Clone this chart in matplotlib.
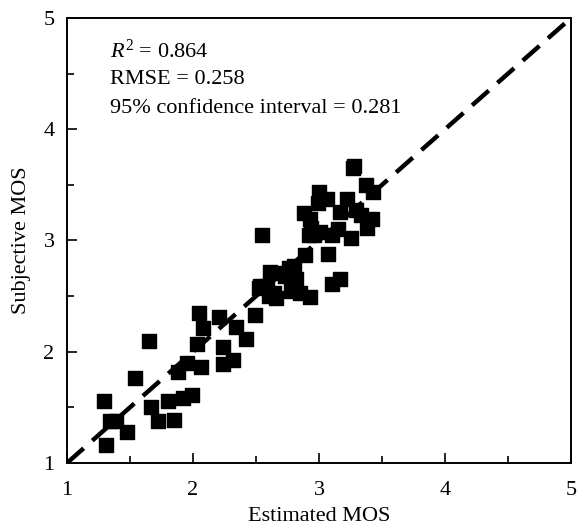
import numpy as np
import matplotlib
matplotlib.use('Agg')
import matplotlib.pyplot as plt
from matplotlib.ticker import MultipleLocator

plt.rcParams['font.family'] = ['Liberation Serif', 'DejaVu Serif']
plt.rcParams['mathtext.fontset'] = 'custom'
plt.rcParams['mathtext.rm'] = 'Liberation Serif'
plt.rcParams['mathtext.it'] = 'Liberation Serif:italic'

# estimated MOS vs subjective MOS
est_mos = [1.29, 1.31, 1.34, 1.39, 1.48, 1.54, 1.65, 1.67, 1.72, 1.80,
           1.85, 1.92, 1.99, 1.88, 1.95, 2.03, 2.05, 2.06, 2.08, 2.21,
           2.24, 2.24, 2.32, 2.34, 2.42, 2.49,
           2.52, 2.53, 2.55, 2.59, 2.60, 2.61, 2.64, 2.66, 2.66, 2.73,
           2.76, 2.80, 2.78, 2.82, 2.85, 2.93, 2.89, 2.88, 2.93, 2.92,
           2.94, 2.96, 3.00, 2.99, 3.01, 3.06, 3.07, 3.10, 3.10, 3.15,
           3.17, 3.17, 3.22, 3.25, 3.28, 3.27, 3.29, 3.33, 3.37, 3.38,
           3.42, 3.43]
subj_mos = [1.56, 1.16, 1.38, 1.38, 1.28, 1.76, 2.10, 1.50, 1.38, 1.56,
            1.39, 1.58, 1.61, 1.82, 1.90, 2.07, 2.35, 1.86, 2.21, 2.31,
            2.04, 1.89, 1.93, 2.22, 2.11, 2.33,
            2.57, 2.59, 3.05, 2.59, 2.50, 2.72, 2.53, 2.48, 2.71, 2.68,
            2.75, 2.77, 2.55, 2.65, 2.53, 2.49, 2.87, 3.25, 3.19, 3.05,
            3.11, 3.05, 3.44, 3.34, 3.08, 3.37, 2.88, 3.05, 2.61, 3.10,
            2.65, 3.26, 3.37, 3.02, 3.67, 3.65, 3.27, 3.23, 3.50, 3.11,
            3.19, 3.44]

stats_text = ['$R^2$ = 0.864', 'RMSE = 0.258', '95% confidence interval = 0.281']

fig = plt.figure(figsize=(5.8, 5.26), dpi=100)
ax = fig.add_axes([0.1155, 0.1198, 0.869, 0.846])

ax.plot([1, 5], [1, 5], color='black', linestyle='--', linewidth=3.2,
        dashes=(5, 2.6), zorder=1)
ax.scatter(est_mos, subj_mos, marker='s', s=90, color='black', zorder=2)

ax.set_xlim(1, 5)
ax.set_ylim(1, 5)
ax.xaxis.set_major_locator(MultipleLocator(1))
ax.yaxis.set_major_locator(MultipleLocator(1))
ax.xaxis.set_minor_locator(MultipleLocator(0.5))
ax.yaxis.set_minor_locator(MultipleLocator(0.5))
ax.tick_params(which='both', direction='in', top=False, right=False,
               labelsize=16, width=1.2)
ax.tick_params(axis='x', which='both', pad=13)
ax.tick_params(axis='y', which='both', pad=9)
ax.tick_params(which='major', length=7)
ax.tick_params(which='minor', length=5)
for sp in ax.spines.values():
    sp.set_linewidth(1.4)

ax.set_xlabel('Estimated MOS', fontsize=16, labelpad=5)
ax.set_ylabel('Subjective MOS', fontsize=16, labelpad=9)

for i, t in enumerate(stats_text):
    ax.text(1.34, 4.70 - i * 0.255, t, fontsize=16, va='center', ha='left')

fig.savefig('out.png', dpi=100)
